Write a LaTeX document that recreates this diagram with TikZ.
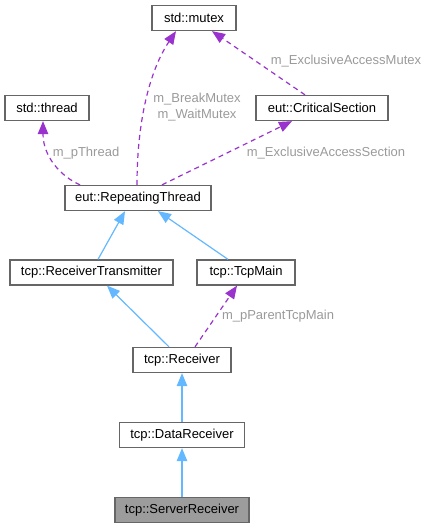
\documentclass[tikz,border=0pt]{standalone}
\usepackage{fontspec}
\setmainfont{Liberation Sans}
\usepackage{tikz}
\usetikzlibrary{arrows.meta}
\usepackage{xcolor}
\definecolor{edgeblue}{HTML}{63B8FF}
\definecolor{edgepurple}{HTML}{9A32CD}
\definecolor{boxgray}{HTML}{666666}
\definecolor{labelgray}{HTML}{9A9A9A}

\tikzset{
  cls/.style={draw=boxgray, line width=1.3pt, fill=white, minimum height=25pt, inner sep=0pt, font=\fontsize{13}{15.5}\selectfont},
  inherit/.style={edgeblue, line width=1.2pt, -{Triangle[length=13pt, width=10.5pt]}},
  usage/.style={edgepurple, line width=1.2pt, dash pattern=on 5pt off 4pt, -{Triangle[length=13pt, width=10.5pt]}},
  elabel/.style={labelgray, inner sep=0pt, align=center, font=\fontsize{13}{15.5}\selectfont}
}

\begin{document}
\begin{tikzpicture}[x=1pt, y=-1pt]
  \useasboundingbox (0,0) rectangle (429,528);
  \node[cls, minimum width=84pt] (mutex) at (194,18) {std::mutex};
  \node[cls, minimum width=84pt] (thread) at (47,108) {std::thread};
  \node[cls, minimum width=132pt] (critsec) at (322,108) {eut::CriticalSection};
  \node[cls, minimum width=146pt] (repthread) at (138,198) {eut::RepeatingThread};
  \node[cls, minimum width=163pt] (rectrans) at (91.5,272.5) {tcp::ReceiverTransmitter};
  \node[cls, minimum width=98pt] (tcpmain) at (246,272.5) {tcp::TcpMain};
  \node[cls, minimum width=98pt] (receiver) at (182,360) {tcp::Receiver};
  \node[cls, minimum width=125pt] (datarec) at (182,435) {tcp::DataReceiver};
  \node[cls, minimum width=134pt, fill=boxgray!65] (serverrec) at (182,510) {tcp::ServerReceiver};
  % inheritance
  \draw[inherit] (serverrec.north) -- (datarec.south);
  \draw[inherit] (datarec.north) -- (receiver.south);
  \draw[inherit] ([xshift=-13pt]receiver.north) -- ([xshift=15.5pt]rectrans.south);
  \draw[inherit] ([xshift=6.5pt]rectrans.north) -- ([xshift=-13pt]repthread.south);
  \draw[inherit] ([xshift=-18pt]tcpmain.north) -- ([xshift=20pt]repthread.south);
  % usage
  \draw[usage] ([xshift=13pt]receiver.north) -- ([xshift=-9pt]tcpmain.south);
  \draw[usage] ([xshift=24pt]repthread.north) -- ([xshift=-30pt]critsec.south);
  \draw[usage] ([xshift=-58pt]repthread.north) .. controls (60,176) and (43,156) .. ([xshift=-4pt]thread.south);
  \draw[usage] ([xshift=-1pt]repthread.north) .. controls (137,120) and (150,70) .. ([xshift=-18pt]mutex.south);
  \draw[usage] ([xshift=-17pt]critsec.north) -- ([xshift=18pt]mutex.south);
  \node[elabel] (lblpthread) at (86,153) {m\_pThread};
  \node[elabel] (lblmutex) at (197,107) {m\_BreakMutex\\m\_WaitMutex};
  \node[elabel] (lblexmutex) at (346,61) {m\_ExclusiveAccessMutex};
  \node[elabel] (lblexsection) at (326,153) {m\_ExclusiveAccessSection};
  \node[elabel] (lblparent) at (278,316) {m\_pParentTcpMain};
\end{tikzpicture}
\end{document}
